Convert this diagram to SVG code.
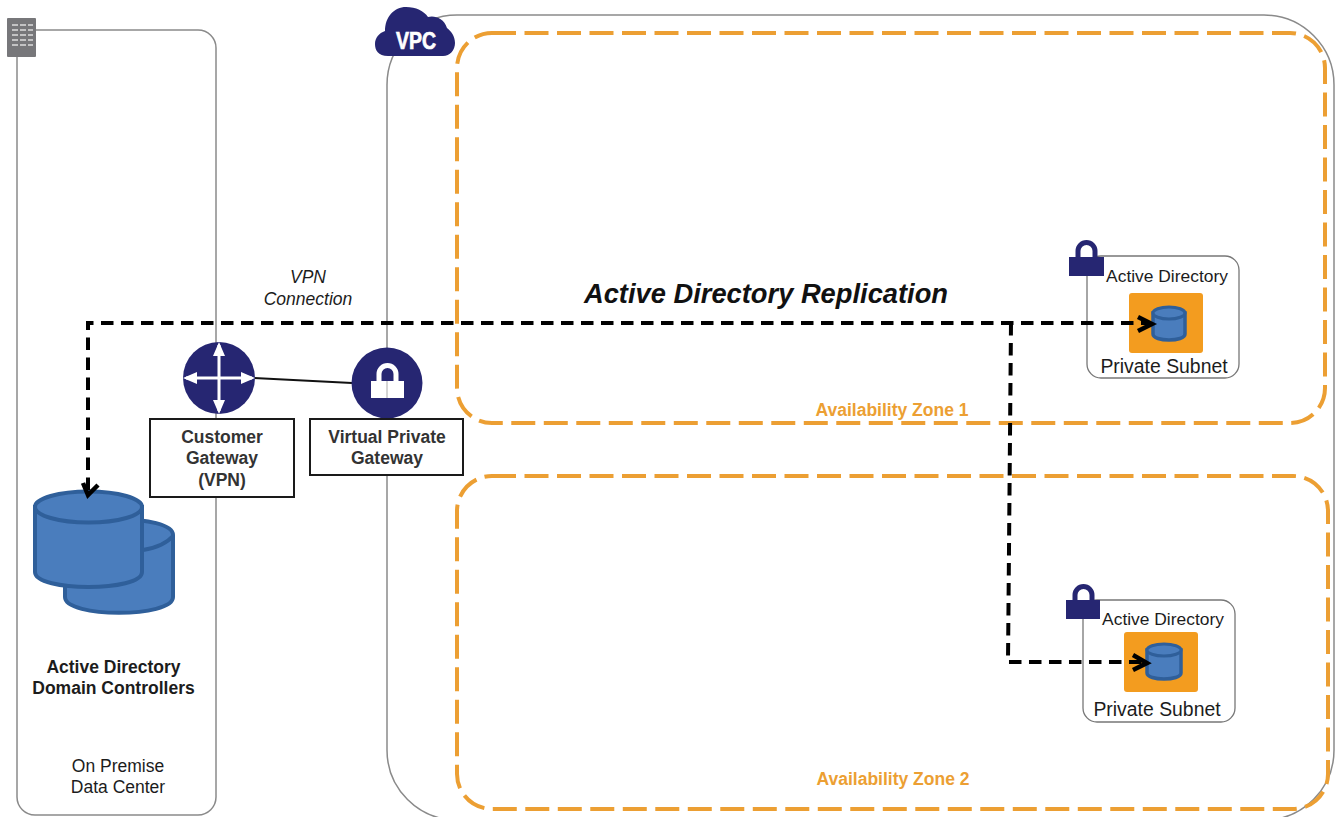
<svg xmlns="http://www.w3.org/2000/svg" width="1335" height="817" viewBox="0 0 1335 817">
<style>
text{font-family:"Liberation Sans",Arial,sans-serif;fill:#1c1c1c;text-anchor:middle}
.frame{fill:none;stroke:#8a8a8a;stroke-width:1.5}
.zone{fill:none;stroke:#ec9f33;stroke-width:4;stroke-dasharray:24 8.5}
.zl{fill:#ec9f33;font-weight:bold;font-size:17.500px}
.box{fill:#fff;stroke:#1a1a1a;stroke-width:2}
.b{font-weight:bold;font-size:17.500px;fill:#333}
.navy{fill:#262672}
.cyl{fill:#4a7dbd;stroke:#2f5f9a}
.sub{fill:#fff;stroke:#777;stroke-width:1.3}
.flow{fill:none;stroke:#000;stroke-width:4;stroke-dasharray:12.5 7.5}
.head{fill:none;stroke:#000;stroke-width:4.500}
</style>
<rect width="1335" height="817" fill="#fff"/>
<g id="on-premise">
<rect class="frame" x="17" y="30" width="199" height="785" rx="18"/>
<rect x="7" y="18" width="29" height="39" rx="1" fill="#77777a"/>
<path d="M12 25h6M20 25h6M28 25h5M12 30h6M20 30h6M28 30h5M12 35h6M20 35h6M28 35h5M12 40h6M20 40h6M28 40h5M12 45h6M20 45h6M28 45h5" stroke="#ddd" stroke-width="1.500" fill="none"/>
<text x="118" y="772" font-size="17.500">On Premise</text>
<text x="118" y="793" font-size="17.500">Data Center</text>
</g>
<g id="vpc">
<rect class="frame" x="387" y="15" width="947" height="805" rx="70"/>
<path class="navy" d="M388 56C378 56 375 50 375 44C375 38 379 33 385 31C385 17 394 7 406 7C416 7 424 11 428 17C434 15 444 18 447 28C451 31 455 36 455 43C455 50 450 56 443 56Z"/>
<text x="416" y="49" font-size="24" font-weight="bold" style="fill:#fff;stroke:#fff;stroke-width:.7" textLength="40" lengthAdjust="spacingAndGlyphs">VPC</text>
</g>
<g id="zone-1">
<rect class="zone" x="457" y="33" width="868" height="390" rx="35"/>
<text class="zl" x="892" y="416">Availability Zone 1</text>
</g>
<g id="zone-2">
<rect class="zone" x="457" y="476" width="871" height="333" rx="35"/>
<text class="zl" x="893" y="785">Availability Zone 2</text>
</g>
<g id="subnet-1">
<rect class="sub" x="1087" y="256" width="152" height="122" rx="14"/>
<rect x="1069" y="257" width="35" height="19" fill="#262672"/>
<path d="M1078 258V251a8.500 8.500 0 0 1 17 0V258" fill="none" stroke="#262672" stroke-width="5"/>
<text x="1167" y="282" font-size="17.400">Active Directory</text>
<rect x="1129" y="293" width="74" height="60" rx="3" fill="#f39c1f"/>
<path class="cyl" stroke-width="3.500" d="M1153 313v21c0 8 32 8 32 0v-21z"/>
<ellipse class="cyl" stroke-width="3" cx="1169" cy="313" rx="16" ry="6"/>
<text x="1164" y="373" font-size="19.400">Private Subnet</text>
</g>
<g id="subnet-2">
<rect class="sub" x="1083" y="600" width="152" height="122" rx="14"/>
<rect x="1066" y="600" width="34" height="19" fill="#262672"/>
<path d="M1075 601V595a8.500 8.500 0 0 1 17 0V601" fill="none" stroke="#262672" stroke-width="5"/>
<text x="1163" y="625" font-size="17.400">Active Directory</text>
<rect x="1124" y="632" width="74" height="60" rx="3" fill="#f39c1f"/>
<path class="cyl" stroke-width="3.500" d="M1147 650v23c0 8 34 8 34 0v-23z"/>
<ellipse class="cyl" stroke-width="3" cx="1164" cy="650" rx="17" ry="6"/>
<text x="1157" y="716" font-size="19.400">Private Subnet</text>
</g>
<g id="domain-controllers">
<path class="cyl" stroke-width="4" d="M65 535v62c0 21 108 21 108 0v-62c0-21-108-21-108 0z"/>
<path fill="none" stroke="#2f5f9a" stroke-width="4" d="M143 550c12-2 24-7 30-14"/>
<path class="cyl" stroke-width="4" d="M35 507v65c0 20 107 20 107 0v-65z"/>
<ellipse class="cyl" stroke-width="4" cx="88.500" cy="507" rx="53.500" ry="15.500"/>
<text class="b" x="113.500" y="673" style="fill:#1c1c1c">Active Directory</text>
<text class="b" x="113.500" y="694" style="fill:#1c1c1c">Domain Controllers</text>
</g>
<g id="connectors">
<line x1="254" y1="378" x2="352" y2="383" stroke="#111" stroke-width="2"/>
<path class="flow" d="M88 490V323H1148"/>
<path class="flow" d="M1011 323L1008 662H1144"/>
<path class="head" d="M1138 317L1152 324L1138 331"/>
<path class="head" d="M1133 655L1147 663L1133 670"/>
<path class="head" d="M83 483L88 495L98 485"/>
</g>
<g id="customer-gateway">
<circle class="navy" cx="219" cy="378" r="36"/>
<path d="M219 345V411M186 378H252" stroke="#fff" stroke-width="3" fill="none"/>
<path d="M219 342l6 14h-12zM219 414l6-14h-12zM183 378l14-6v12zM255 378l-14-6v12z" fill="#fff"/>
<rect class="box" x="150" y="419" width="144" height="78"/>
<text class="b" x="222" y="443">Customer</text>
<text class="b" x="222" y="464">Gateway</text>
<text class="b" x="222" y="486">(VPN)</text>
</g>
<g id="virtual-private-gateway">
<circle class="navy" cx="387" cy="383" r="35.500"/>
<rect x="371" y="381" width="33" height="17" fill="#fff"/>
<path d="M379 382V374a8.500 8.500 0 0 1 17 0V382" fill="none" stroke="#fff" stroke-width="5"/>
<line x1="387" y1="381" x2="387" y2="398" stroke="#aaa" stroke-width="1"/>
<rect class="box" x="310" y="419" width="153" height="56"/>
<text class="b" x="387" y="443">Virtual Private</text>
<text class="b" x="387" y="464">Gateway</text>
</g>
<text x="308" y="283" font-size="17.500" font-style="italic">VPN</text>
<text x="308" y="305" font-size="17.500" font-style="italic">Connection</text>
<text x="766" y="303" font-size="27.300" font-weight="bold" font-style="italic" style="fill:#111">Active Directory Replication</text>
</svg>
